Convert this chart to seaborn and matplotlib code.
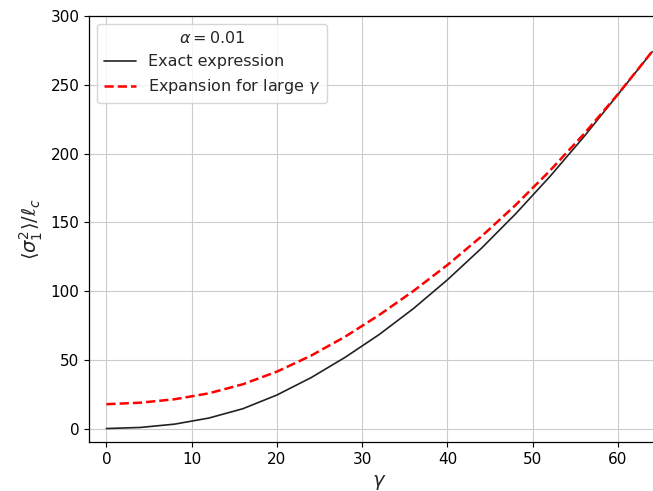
import numpy as np
import pandas as pd
import matplotlib
matplotlib.use("Agg")
import matplotlib.pyplot as plt
import seaborn as sns

# values
gamma = [0, 4, 8, 12, 16, 20, 24, 28, 32, 36, 40, 44, 48, 52, 56, 60, 64]
exact = [0, 0.8, 3.2, 7.6, 14.4, 24.4, 37.0, 51.8, 68.4, 87.2, 108.2, 131.2,
         156.2, 183.2, 212.2, 243.0, 274.0]
expansion = [17.7, 18.8, 21.3, 25.6, 32.2, 41.4, 53.0, 66.8, 82.6, 100.0, 119.0,
             139.8, 162.6, 187.4, 214.2, 243.2, 274.2]

alpha_label = r"$\alpha = 0.01$"
yticks = [0, 50, 100, 150, 200, 250, 300]
xticks = [0, 10, 20, 30, 40, 50, 60]

df = pd.DataFrame({"gamma": gamma, "exact": exact, "expansion": expansion})

sns.set_style("ticks")
plt.rcParams["font.family"] = ["DejaVu Sans"]

fig = plt.figure(figsize=(6.53, 4.91), dpi=100)
ax = fig.add_axes([0.1368, 0.0992, 0.888, 0.8682])

sns.lineplot(data=df, x="gamma", y="exact", ax=ax, color="#222222",
             linewidth=1.2, label="Exact expression")
sns.lineplot(data=df, x="gamma", y="expansion", ax=ax, color="red",
             linewidth=1.8, label=r"Expansion for large $\gamma$")
ax.lines[1].set_linestyle("--")

ax.set_xlim(-2, 66)
ax.set_ylim(-10, 300)
ax.set_xticks(xticks)
ax.set_yticks(yticks)
ax.grid(True, color="#cccccc", linewidth=0.8)
ax.tick_params(labelsize=11, colors="black")
for s in ax.spines.values():
    s.set_color("black")
    s.set_linewidth(0.9)

ax.set_xlabel(r"$\gamma$", fontsize=14)
ax.set_ylabel(r"$\langle\sigma_1^2\rangle/\ell_c$", fontsize=14)

leg = ax.legend(title=alpha_label, loc="upper left", fontsize=11.5,
                title_fontsize=11.5, frameon=True)
leg.get_lines()[1].set_linestyle("--")

fig.savefig("out.png", dpi=100)
